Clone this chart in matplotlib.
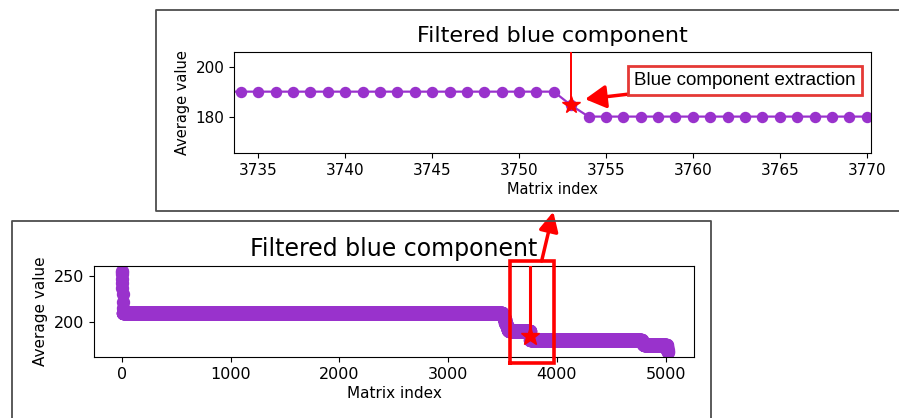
import numpy as np
import matplotlib
matplotlib.use("Agg")
import matplotlib.pyplot as plt
from matplotlib.lines import Line2D

# Average blue value per matrix index, stored as runs of equal values
run_values = [255, 254, 252, 247, 242, 237, 230, 222, 215, 210,
              207, 203, 199, 195, 191, 190, 184.5, 180,
              178, 176, 175, 173, 170, 167]
run_lengths = [1, 1, 1, 1, 1, 1, 1, 1, 1, 3491,
               12, 12, 12, 12, 12, 193, 1, 1026,
               10, 10, 210, 4, 4, 2]

# Highlighted extraction point
mark_index = 3753
mark_value = 184.5

title = "Filtered blue component"
xlabel = "Matrix index"
ylabel = "Average value"
note = "Blue component extraction"

full_xticks = [0, 1000, 2000, 3000, 4000, 5000]
full_yticks = [200, 250]
zoom_xticks = [3735, 3740, 3745, 3750, 3755, 3760, 3765, 3770]
zoom_yticks = [180, 200]

values = np.repeat(np.array(run_values, dtype=float), run_lengths)
index = np.arange(len(values))

W, H = 899, 418
PURPLE = "#9932CC"
FRAME = "#4d4d4d"

fig = plt.figure(figsize=(W / 100, H / 100), dpi=100)
fig.patch.set_facecolor("white")


def box(left, top, right, bottom):
    """Axes rectangle from image-style pixel edges."""
    return [left / W, 1 - bottom / H, (right - left) / W, (bottom - top) / H]


def fig_line(xs, ys, **kw):
    fig.add_artist(Line2D([x / W for x in xs], [1 - y / H for y in ys],
                          transform=fig.transFigure, **kw))


# Panel frames
fig_line([W + 5, 156, 156, W + 5], [9.5, 9.5, 211, 211], color=FRAME, lw=1.3)
fig_line([12, 12, 711, 711], [H + 5, 221, 221, H + 5], color=FRAME, lw=1.3)

# ---- zoomed panel ----
ax_z = fig.add_axes(box(234, 52, 871, 153))
ax_z.plot(index, values, "-o", color=PURPLE, lw=1.6, ms=7.2, zorder=2)
ax_z.set_xlim(3733.6, 3770.25)
ax_z.set_ylim(165.4, 205.9)
ax_z.set_xticks(zoom_xticks)
ax_z.set_yticks(zoom_yticks)
ax_z.set_title(title, fontsize=16, pad=7)
ax_z.set_xlabel(xlabel, fontsize=10.5, labelpad=3)
ax_z.set_ylabel(ylabel, fontsize=10.5, labelpad=4)
ax_z.tick_params(labelsize=11)
ax_z.plot([mark_index, mark_index], [mark_value, 205.9], color="red", lw=1.4, zorder=3)
ax_z.plot([mark_index], [mark_value], marker="*", color="red", ms=13, zorder=4)
ax_z.annotate(note, xy=(3753.8, 187.0), xytext=(3763.0, 194.4),
              ha="center", va="center", fontsize=13.5, family="Liberation Sans",
              bbox=dict(boxstyle="square,pad=0.32", fc="white", ec="#e53935", lw=2),
              arrowprops=dict(arrowstyle="-|>,head_length=0.9,head_width=0.5",
                              color="red", lw=2.5, shrinkA=0, shrinkB=0,
                              mutation_scale=14),
              zorder=5)

# ---- full panel ----
ax_f = fig.add_axes(box(94, 266, 694, 357))
ax_f.plot(index, values, "-o", color=PURPLE, lw=1.6, ms=8.6, zorder=2)
ax_f.set_xlim(-257, 5260)
ax_f.set_ylim(162, 260.9)
ax_f.set_xticks(full_xticks)
ax_f.set_yticks(full_yticks)
ax_f.set_title(title, fontsize=17, pad=7)
ax_f.set_xlabel(xlabel, fontsize=11, labelpad=3)
ax_f.set_ylabel(ylabel, fontsize=11, labelpad=4)
ax_f.tick_params(labelsize=11.5)
ax_f.plot([mark_index, mark_index], [mark_value, 260.9], color="red", lw=2.2, zorder=3)
ax_f.plot([mark_index], [mark_value], marker="*", color="red", ms=14, zorder=4)
# highlight of the zoomed range
zx0, zx1, zy0, zy1 = 3570, 3975, 155.4, 266.3
ax_f.plot([zx0, zx1, zx1, zx0, zx0], [zy0, zy0, zy1, zy1, zy0], color="red",
          lw=2.6, clip_on=False, zorder=5, solid_joinstyle="miter")
ax_f.annotate("", xy=(553.3, H - 211.7), xycoords="figure pixels",
              xytext=(3859, zy1), textcoords="data",
              arrowprops=dict(arrowstyle="-|>,head_length=0.9,head_width=0.45",
                              color="red", lw=2.5, shrinkA=0, shrinkB=0,
                              mutation_scale=13),
              annotation_clip=False, zorder=6)

fig.savefig("out.png", dpi=100)
